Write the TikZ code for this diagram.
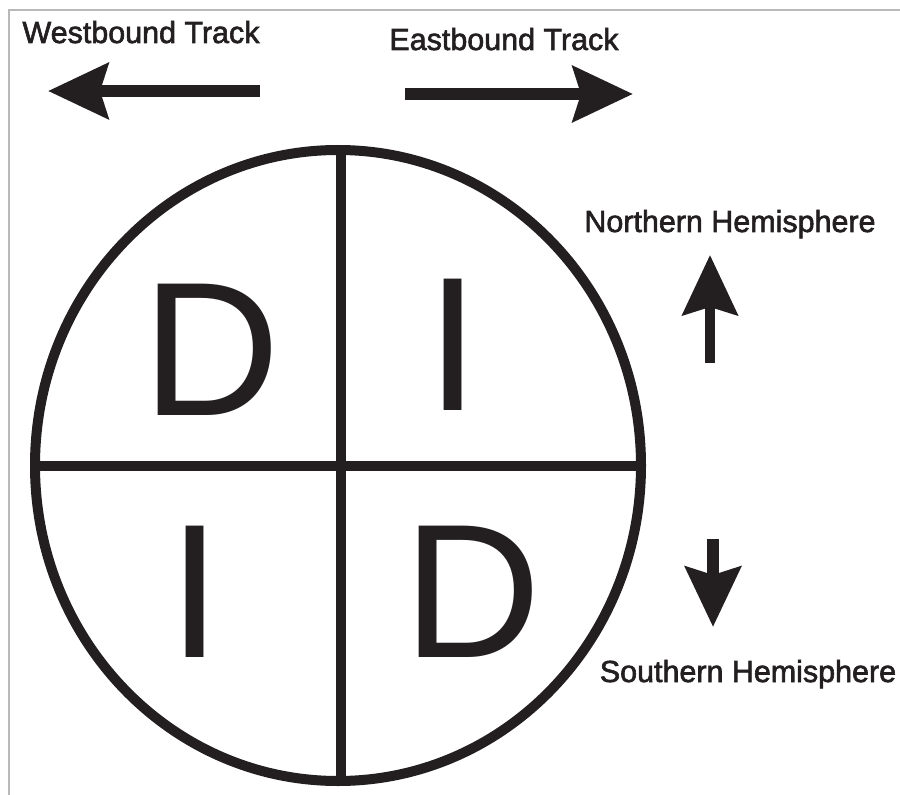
\documentclass[tikz,border=0pt]{standalone}
\usepackage{fontspec}
\setmainfont{Liberation Sans}
\newfontfamily\headfont[FakeBold=2]{Liberation Sans}
\usetikzlibrary{arrows.meta}
\definecolor{ink}{HTML}{231F20}

\begin{document}
\begin{tikzpicture}[
    x=0.03cm,
    y=-0.03cm,
    frame/.style={gray!55, line width=0.06cm},
    globe/.style={ink, line width=0.3cm},
    letter/.style={ink, inner sep=0pt, anchor=base, font=\fontsize{163}{163}\selectfont},
    heading/.style={ink, inner sep=0pt, anchor=base, font=\headfont\fontsize{26}{26}\selectfont},
    track/.style={ink, line width=0.36cm, -{Stealth[length=1.8cm, width=1.65cm, inset=0.24cm]}}
]

% =========================================================
% PARAMETRI
% =========================================================

\def\cx{338}
\def\cy{465.5}
\def\rx{303}
\def\ry{315.5}

\useasboundingbox (0,0) rectangle (900,795);

% Cornice
\draw[frame] (9,795) -- (9,10) -- (900,10);

% =========================================================
% CERCHIO
% =========================================================

\draw[globe] (\cx,\cy) ellipse [x radius=\rx, y radius=\ry];

% Assi
\draw[globe] (341,150) -- (341,781);
\draw[globe] (35,466) -- (641,466);

% Lettere
\node[letter] (dNW) at (211,415) {D};
\node[letter] (iNE) at (453,410) {I};
\node[letter] (iSW) at (195,657) {I};
\node[letter] (dSE) at (472,657) {D};

% =========================================================
% BINARI
% =========================================================

% Etichette
\node[heading] (west) at (141,43) {Westbound Track};
\node[heading] (east) at (504,50) {Eastbound Track};

% Frecce
\coordinate (westStart) at (260,91);
\coordinate (westTip)   at (48,91);
\coordinate (eastStart) at (405,94);
\coordinate (eastTip)   at (633,94);

\draw[track] (westStart) -- (westTip);
\draw[track] (eastStart) -- (eastTip);

% =========================================================
% EMISFERI
% =========================================================

% Etichette
\node[heading] (north) at (730,232) {Northern Hemisphere};
\node[heading] (south) at (748,682) {Southern Hemisphere};

% Frecce
\coordinate (northStart) at (710,363);
\coordinate (northTip)   at (710,255);
\coordinate (southStart) at (713,539);
\coordinate (southTip)   at (713,627);

\draw[track, line width=0.3cm] (northStart) -- (northTip);
\draw[track] (southStart) -- (southTip);

\end{tikzpicture}
\end{document}
